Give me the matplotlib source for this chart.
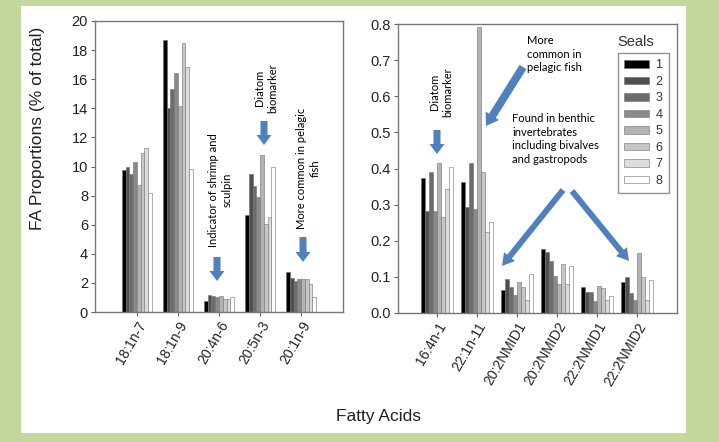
import numpy as np
import matplotlib
matplotlib.use("Agg")
import matplotlib.pyplot as plt
import matplotlib.patches as mpatches
import matplotlib.transforms as mtransforms

plt.rcParams['font.family'] = ['Liberation Sans', 'DejaVu Sans']

# seals 1..8
seals = ['1', '2', '3', '4', '5', '6', '7', '8']
seal_colors = ['#000000', '#4f4f4f', '#6c6c6c', '#8a8a8a', '#b3b3b3', '#c6c6c6', '#dcdcdc', '#ffffff']

# left panel (major FAs, % of total)
left_acids = ['18:1n-7', '18:1n-9', '20:4n-6', '20:5n-3', '20:1n-9']
fa_18_1n7 = [9.76, 10.0, 9.46, 10.33, 8.73, 10.95, 11.25, 8.16]
fa_18_1n9 = [18.7, 14.0, 15.3, 16.45, 14.16, 18.5, 16.86, 9.8]
fa_20_4n6 = [0.76, 1.17, 1.1, 1.0, 1.1, 0.9, 0.9, 1.05]
fa_20_5n3 = [6.67, 9.46, 8.66, 7.93, 10.8, 6.05, 6.5, 10.0]
fa_20_1n9 = [2.73, 2.31, 2.13, 2.3, 2.3, 2.3, 1.9, 1.05]

# right panel (minor FAs)
right_acids = ['16:4n-1', '22:1n-11', '20:2NMID1', '20:2NMID2', '22:2NMID1', '22:2NMID2']
fa_16_4n1 = [0.373, 0.283, 0.389, 0.283, 0.415, 0.267, 0.343, 0.403]
fa_22_1n11 = [0.362, 0.294, 0.416, 0.287, 0.791, 0.391, 0.225, 0.251]
fa_20_2nmid1 = [0.064, 0.093, 0.071, 0.05, 0.085, 0.071, 0.036, 0.107]
fa_20_2nmid2 = [0.177, 0.168, 0.144, 0.102, 0.079, 0.135, 0.079, 0.13]
fa_22_2nmid1 = [0.071, 0.059, 0.059, 0.034, 0.076, 0.068, 0.036, 0.048]
fa_22_2nmid2 = [0.087, 0.099, 0.055, 0.036, 0.167, 0.1, 0.036, 0.091]

left_vals = np.array([fa_18_1n7, fa_18_1n9, fa_20_4n6, fa_20_5n3, fa_20_1n9])
right_vals = np.array([fa_16_4n1, fa_22_1n11, fa_20_2nmid1, fa_20_2nmid2, fa_22_2nmid1, fa_22_2nmid2])

green = '#c4d79d'
blue = '#4f81bd'
W, H = 719, 442

fig = plt.figure(figsize=(7.19, 4.42), dpi=100, facecolor=green)
# pixel transform, origin top-left
px = mtransforms.Affine2D().scale(1 / 100.0, -1 / 100.0).translate(0, H / 100.0) + fig.dpi_scale_trans

fig.patches.append(mpatches.Rectangle((21, 6), 665, 427, transform=px, facecolor='white',
                                      edgecolor='none', zorder=-10))


def panel(rect, acids, vals, width, xlim, ylim, yticks, yfmt):
    ax = fig.add_axes(rect)
    x = np.arange(len(acids))
    for i in range(len(seals)):
        ax.bar(x + (i - 3.5) * width, vals[:, i], width, color=seal_colors[i],
               edgecolor='#707070', linewidth=0.4, label=seals[i])
    ax.set_xlim(*xlim)
    ax.set_ylim(*ylim)
    ax.set_yticks(yticks)
    ax.set_yticklabels([yfmt.format(v) for v in yticks], fontsize=10.5, color='#222222')
    ax.set_xticks(x)
    ax.set_xticklabels(acids, rotation=60, ha='right', rotation_mode='anchor',
                       fontsize=10, color='#222222')
    ax.tick_params(length=3, width=0.8, color='#666666', pad=2)
    for s in ax.spines.values():
        s.set_color('#777777')
        s.set_linewidth(1.0)
    ax.set_facecolor('none')
    return ax


ax1 = panel([95 / W, 1 - 312 / H, 248 / W, 291 / H], left_acids, left_vals, 0.092,
            (-1.02, 5.02), (0, 20), np.arange(0, 21, 2), '{:.0f}')
ax2 = panel([398 / W, 1 - 313 / H, 279 / W, 289 / H], right_acids, right_vals, 0.1,
            (-0.975, 6.0), (0, 0.8), np.round(np.arange(0, 0.81, 0.1), 1), '{:.1f}')

leg = ax2.legend(loc='upper left', bbox_to_anchor=(618, 53), bbox_transform=px,
                 fontsize=9, frameon=True, fancybox=False, handlelength=2.0,
                 handleheight=0.55, labelspacing=0.36, borderpad=0.5, handletextpad=0.5,
                 borderaxespad=0)
leg.get_frame().set_edgecolor('#777777')
leg.get_frame().set_linewidth(1.0)
for t in leg.get_texts():
    t.set_color('#333333')
fig.text(636, 42, 'Seals', transform=px, fontsize=10.5, ha='center', va='center', color='#333333')

fig.text(38, 128, 'FA Proportions (% of total)', transform=px, rotation=90,
         ha='center', va='center', fontsize=12.5, color='#222222')
fig.text(378, 416, 'Fatty Acids', transform=px, ha='center', va='center',
         fontsize=12.5, color='#222222')

note = dict(transform=px, fontsize=8, family='Lato', color='black', linespacing=1.3)
fig.text(220, 190, 'Indicator of shrimp and\nsculpin', rotation=90, ha='center', va='center', **note)
fig.text(266, 88, 'Diatom\nbiomarker', rotation=90, ha='center', va='center', **note)
fig.text(308, 168, 'More common in pelagic\nfish', rotation=90, ha='center', va='center', **note)
fig.text(441, 92, 'Diatom\nbiomarker', rotation=90, ha='center', va='center', **note)
fig.text(527, 54, 'More\ncommon in\npelagic fish', ha='left', va='center', **note)
fig.text(512, 139, 'Found in benthic\ninvertebrates\nincluding bivalves\nand gastropods',
         ha='left', va='center', **note)


def block_arrow(x0, y0, x1, y1, body=7, head=15, hlen=10):
    a = mpatches.FancyArrow(x0, y0, x1 - x0, y1 - y0, width=body, head_width=head,
                            head_length=hlen, length_includes_head=True, transform=px,
                            facecolor=blue, edgecolor='none', zorder=5)
    fig.patches.append(a)


block_arrow(217, 257, 217, 281)
block_arrow(264, 121, 264, 145)
block_arrow(303, 237, 303, 262)
block_arrow(437, 130, 437, 154)
block_arrow(523, 67, 486, 126, body=8, head=16, hlen=12)
block_arrow(563, 190, 502, 266, body=6, head=14, hlen=12)
block_arrow(572, 191, 629, 261, body=6, head=14, hlen=12)

fig.savefig('out.png', dpi=100, facecolor=green)
